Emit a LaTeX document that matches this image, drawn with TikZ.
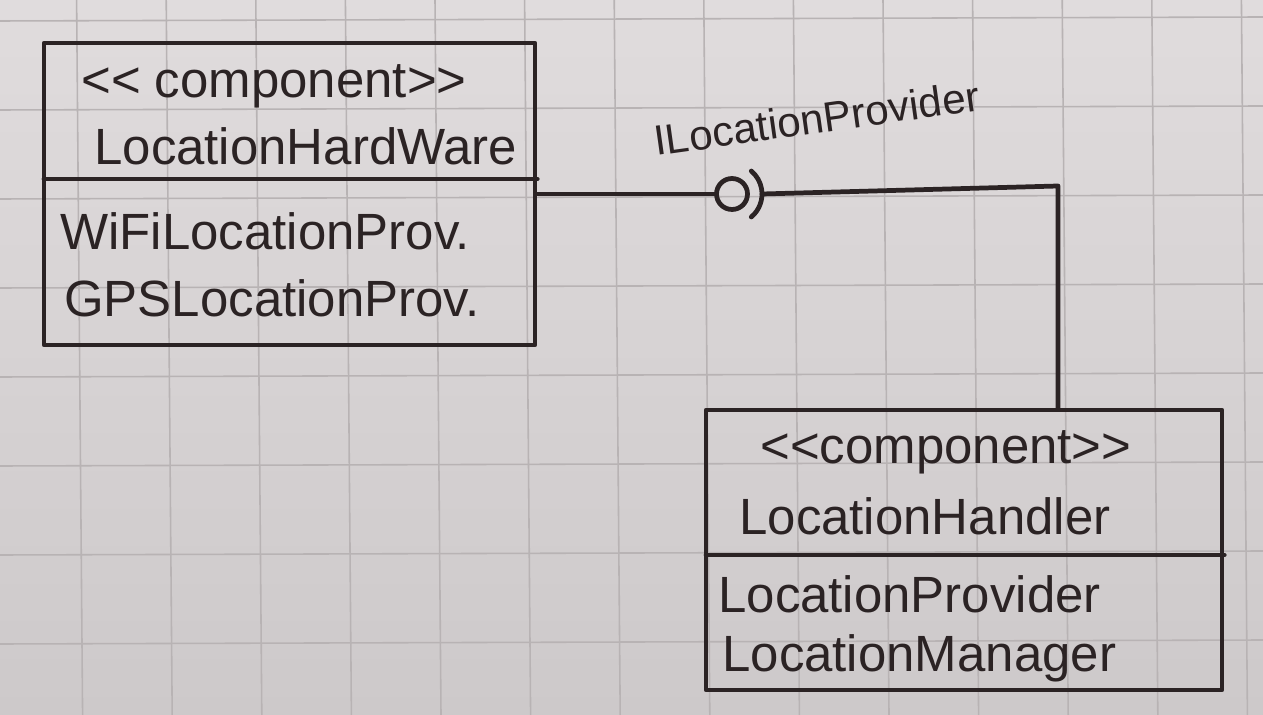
\documentclass[tikz,border=0pt]{standalone}
\usepackage{fontspec}
\setmainfont{Liberation Sans}
\usetikzlibrary{calc}
\definecolor{paperlight}{HTML}{E0DCDD}
\definecolor{paperdark}{HTML}{CDC9CA}
\definecolor{gridc}{HTML}{B8B3B4}
\definecolor{ink}{HTML}{2B2324}
\tikzset{
  ink/.style={draw=ink, line width=2.7pt, line cap=round, line join=round},
  compbox/.style={ink, rectangle, inner sep=0pt},
  hand/.style={text=ink, font=\fontsize{29}{32}\selectfont, inner sep=0pt, anchor=base west},
  lbl/.style={text=ink, font=\fontsize{24}{27}\selectfont, inner sep=0pt, anchor=base west},
  gridline/.style={draw=gridc, line width=0.9pt}
}
\begin{document}
\begin{tikzpicture}[x=0.02cm,y=-0.02cm]
\useasboundingbox (0,0) rectangle (1263,715);
% paper
\shade[top color=paperlight, bottom color=paperdark] (0,0) rectangle (1263,715);
\foreach \i in {0,...,14} {\draw[gridline] (-13+89.6*\i,0) -- (-13+89.6*\i+6,715);}
\foreach \j in {0,...,8} {\draw[gridline] (0,21+89*\j) -- (1263,21+89*\j-4);}

% component 1
\node[compbox, minimum width=9.82cm, minimum height=6.04cm] (hw) at (289.5,194) {};
\coordinate (hwdiv) at (44,179);
\draw[ink] (hwdiv) -- (hwdiv -| hw.east);
\node[hand] (hws) at (81,97.5) {<\kern0pt< component>\kern0pt>};
\node[hand] (hwn) at (94,165) {LocationHardWare};
\node[hand] (hwa) at (60,250) {WiFiLocationProv.};
\node[hand] (hwb) at (64,317) {GPSLocationProv.};

% component 2
\node[compbox, minimum width=10.32cm, minimum height=5.6cm] (lh) at (964,550) {};
\coordinate (lhdiv) at (706,555);
\draw[ink] (lhdiv) -- (lhdiv -| lh.east);
\node[hand] (lhs) at (760,464) {<\kern0pt<component>\kern0pt>};
\node[hand] (lhn) at (739,534) {LocationHandler};
\node[hand] (lha) at (718,612) {LocationProvider};
\node[hand] (lhb) at (722,671) {LocationManager};

% interface (ball and socket)
\node[ink, circle, minimum size=0.62cm, inner sep=0pt] (ball) at (732,194) {};
\coordinate (sockc) at (732,194);
\coordinate (socktop) at ($(sockc)+(50:30)$);
\draw[ink] (socktop) arc[start angle=50, end angle=-50, radius=30];
\coordinate (sockr) at (762,194);
\coordinate (corner) at (1058,186);
\draw[ink] (hw.east |- ball) -- (ball.west);
\draw[ink] (sockr) -- (corner) -- (corner |- lh.north);
\node[lbl, rotate=8] (iface) at (656,156) {ILocationProvider};
\end{tikzpicture}
\end{document}
